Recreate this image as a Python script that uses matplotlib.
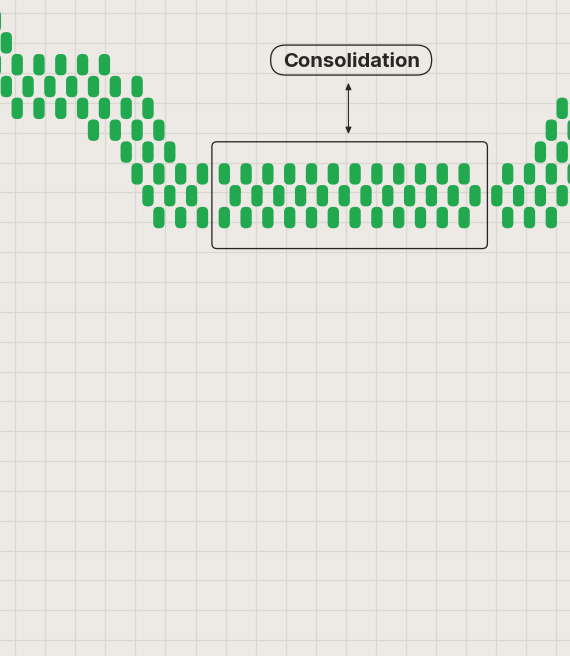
import matplotlib
matplotlib.use("Agg")
import matplotlib.pyplot as plt
from matplotlib.patches import FancyBboxPatch
from matplotlib.collections import PatchCollection
from matplotlib.transforms import IdentityTransform

# ---- data: column index, highest and lowest level of each column (step 2) ----
columns = [-1, 0, 1, 2, 3, 4, 5, 6, 7, 8, 9, 10, 11, 12, 13, 14, 15, 16, 17, 18,
           19, 20, 21, 22, 23, 24, 25, 26, 27, 28, 29, 30, 31, 32, 33, 34, 35, 36,
           37, 38, 39, 40, 41, 42, 43, 44, 45, 46, 47, 48, 49, 50, 51, 52]
col_high = [9, 8, 7, 6, 7, 6, 7, 6, 7, 6, 7, 6, 5, 6, 5, 4, 3, 2, 1, 2,
            None, 2, 1, 2, 1, 2, 1, 2, 1, 2, 1, 2, 1, 2, 1, 2, 1, 2,
            1, 2, 1, 2, 1, 2, 1, None, 1, 2, 1, 2, 3, 4, 5, 4]
col_low = [7, 6, 5, 6, 5, 6, 5, 6, 5, 4, 5, 4, 3, 2, 1, 0, 1, 0, 1, 0,
           None, 0, 1, 0, 1, 0, 1, 0, 1, 0, 1, 0, 1, 0, 1, 0, 1, 0,
           1, 0, 1, 0, 1, 0, 1, None, 1, 0, 1, 0, 1, 0, 1, 2]
consolidation_cols = [19, 44]
label_text = "Consolidation"

# ---- styles ----
BG = "#EDEAE6"
GRID = "#DAD6D2"
GREEN = "#22A84F"
DARK = "#2A2624"

W, H = 570, 656
fig = plt.figure(figsize=(W / 100, H / 100), dpi=100, facecolor=BG)

# background grid (pixel space)
axg = fig.add_axes([0, 0, 1, 1], zorder=0)
axg.set_facecolor(BG)
axg.set_xlim(0, W)
axg.set_ylim(H, 0)
gx0, gdx = 15.2, 30.05
gy0, gdy = 13.3, 29.85
axg.set_xticks([gx0 + i * gdx for i in range(19)])
axg.set_yticks([gy0 + i * gdy for i in range(22)])
axg.grid(True, color=GRID, linewidth=0.9)
axg.tick_params(length=0, labelbottom=False, labelleft=False)
for s in axg.spines.values():
    s.set_visible(False)

# main chart axes
ax = fig.add_axes([0, 0, 1, 1], zorder=1)
ax.patch.set_alpha(0)
px_x = 10.9    # pixels per column
px_y = 21.84   # pixels per level
x_at0 = 6.3    # pixel x of column 0
y_top_lvl9 = 21.0  # pixel y (from top) of level 9
ax.set_xlim(-x_at0 / px_x, (W - x_at0) / px_x)
ax.set_ylim(9 - (H - y_top_lvl9) / px_y, 9 + y_top_lvl9 / px_y)
ax.axis("off")
aspect = px_x / px_y

# pills: rounded rectangles
pill_w = 11.3 / px_x
pill_h = 21.4 / px_y
rad = 5.0 / px_x
pills = []
for c, hi, lo in zip(columns, col_high, col_low):
    if hi is None:
        continue
    lvl = hi
    while lvl >= lo:
        pills.append(FancyBboxPatch((c - pill_w / 2, lvl - pill_h / 2), pill_w, pill_h,
                                    boxstyle="round,pad=0,rounding_size=%f" % rad,
                                    mutation_aspect=aspect))
        lvl -= 2
ax.add_collection(PatchCollection(pills, facecolor=GREEN, edgecolor="none", zorder=2))

# consolidation box
c0, c1 = consolidation_cols
pad_x = 1.5 / px_x
bx0, bx1 = c0 - pad_x, c1 + pad_x
by_top = 2 + 1.47
by_bot = 0 - 1.42
box = FancyBboxPatch((bx0, by_bot), bx1 - bx0, by_top - by_bot,
                     boxstyle="round,pad=0,rounding_size=%f" % (5 / px_x),
                     mutation_aspect=aspect,
                     facecolor="none", edgecolor=DARK, linewidth=0.95, zorder=3)
ax.add_patch(box)

# label + arrow (display pixels)
cx = (bx0 + bx1) / 2
dx, dtop = ax.transData.transform((cx, by_top))
lab_y = dtop + 81.7
ident = IdentityTransform()
lab_w, lab_h = 161, 30
ax.add_patch(FancyBboxPatch((dx + 1.5 - lab_w / 2, lab_y - lab_h / 2), lab_w, lab_h,
                            boxstyle="round,pad=0,rounding_size=15",
                            facecolor="none", edgecolor=DARK, linewidth=0.95,
                            transform=ident, zorder=4))
ax.text(dx + 1.5, lab_y, label_text, transform=ident, ha="center", va="center_baseline",
        fontsize=14.6, fontweight="bold", family=["Inter", "DejaVu Sans"], color=DARK, zorder=5)
ax.annotate("", xy=(dx - 1.2, dtop + 7.7), xycoords=ident,
            xytext=(dx - 1.2, dtop + 59.0), textcoords=ident,
            arrowprops=dict(arrowstyle="<|-|>,head_length=0.5,head_width=0.22",
                            mutation_scale=8, color=DARK, linewidth=0.8,
                            shrinkA=0, shrinkB=0))

fig.savefig("out.png", dpi=100, facecolor=BG)
